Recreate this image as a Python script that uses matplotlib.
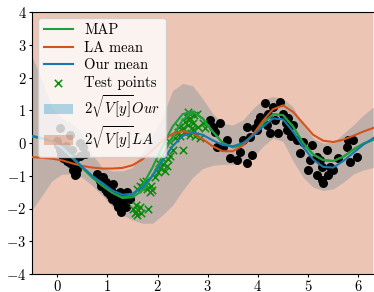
import matplotlib
matplotlib.use("Agg")
import matplotlib.pyplot as plt
import numpy as np

plt.rcParams['font.family'] = 'serif'
plt.rcParams['font.serif'] = ['cmr10']
plt.rcParams['mathtext.fontset'] = 'cm'
plt.rcParams['axes.formatter.use_mathtext'] = True
plt.rcParams['font.size'] = 10

# grid on which curves are given
x_grid = [-0.5, -0.3, -0.1, 0.1, 0.3, 0.5, 0.7, 0.9, 1.1, 1.3, 1.5, 1.7, 1.9, 2.1, 2.3,
          2.5, 2.7, 2.9, 3.1, 3.3, 3.5, 3.7, 3.9, 4.1, 4.3, 4.5, 4.7, 4.9, 5.1, 5.3,
          5.5, 5.7, 5.9, 6.1, 6.3]

our_mean = [0.22, 0.15, 0.05, -0.15, -0.42, -0.73, -1.0, -1.22, -1.45, -1.58, -1.55, -1.35,
            -1.0, -0.55, -0.1, 0.22, 0.32, 0.25, 0.08, -0.06, -0.1, 0.0, 0.22, 0.5, 0.75,
            0.72, 0.35, -0.12, -0.5, -0.73, -0.75, -0.55, -0.3, -0.05, 0.15]

map_mean = [0.2, 0.14, 0.05, -0.15, -0.45, -0.75, -1.05, -1.3, -1.52, -1.65, -1.6, -1.3,
            -0.75, -0.1, 0.5, 0.88, 0.97, 0.75, 0.35, 0.0, -0.13, -0.05, 0.25, 0.6, 0.88,
            0.85, 0.5, 0.0, -0.35, -0.52, -0.55, -0.42, -0.2, -0.02, 0.1]

map_mean_2 = [0.2, 0.14, 0.05, -0.15, -0.45, -0.75, -1.05, -1.3, -1.52, -1.68, -1.66, -1.45,
              -1.0, -0.4, 0.2, 0.7, 0.95, 0.75, 0.35, 0.0, -0.13, -0.05, 0.25, 0.6, 0.88,
              0.85, 0.5, 0.0, -0.35, -0.52, -0.55, -0.42, -0.2, -0.02, 0.1]

la_mean = [-0.43, -0.45, -0.48, -0.53, -0.62, -0.7, -0.75, -0.78, -0.78, -0.76, -0.68, -0.5,
           -0.22, 0.08, 0.28, 0.36, 0.3, 0.12, -0.1, -0.25, -0.25, -0.08, 0.25, 0.68, 1.03,
           1.15, 0.95, 0.6, 0.25, 0.07, 0.03, 0.1, 0.22, 0.35, 0.46]

our_upper = [2.65, 1.9, 1.1, 0.75, 0.6, 0.3, -0.35, -0.75, -0.85, -0.85, -0.75, -0.3,
             0.25, 0.8, 1.6, 1.82, 1.75, 1.35, 0.9, 0.6, 0.55, 0.7, 1.05, 1.32, 1.42,
             1.35, 1.1, 0.55, 0.15, 0.0, 0.02, 0.28, 0.55, 0.85, 1.1]

our_lower = [-2.05, -1.6, -1.15, -0.95, -0.95, -1.05, -1.3, -1.6, -1.95, -2.2, -2.35, -2.45,
             -2.45, -2.2, -1.9, -1.45, -1.05, -0.78, -0.68, -0.65, -0.65, -0.6, -0.45, -0.1,
             0.15, 0.05, -0.55, -1.05, -1.35, -1.45, -1.4, -1.2, -0.95, -0.82, -0.75]

la_two_sd = [6.0] * 35

train_x = [0.02, 0.05, 0.08, 0.1, 0.12, 0.15, 0.18, 0.2, 0.22, 0.25, 0.28, 0.3, 0.33, 0.35,
           0.38, 0.4, 0.45, 0.55, 0.46, 0.52, 0.06, 0.25, 0.0, 0.32, 0.36,
           0.8, 0.85, 0.88, 0.92, 0.95, 0.98, 1.0, 1.03, 1.05, 1.08, 1.1, 1.12, 1.15, 1.18,
           1.2, 1.22, 1.25, 1.27, 1.3, 1.32, 1.35, 1.38, 1.4, 1.45,
           3.05, 3.1, 3.15, 3.25, 3.19, 3.3, 3.38, 3.45, 3.58, 3.65, 3.78, 3.7, 3.84, 3.78,
           3.95, 4.0, 4.14, 4.44, 4.04, 4.18, 3.98, 4.58, 4.7, 3.88, 4.2, 4.3, 4.35, 4.5,
           4.55, 4.6, 4.65, 4.4, 4.25, 4.78, 4.9, 4.84, 5.08, 5.04, 5.18, 5.24, 5.28, 5.0,
           5.18, 5.28, 5.4, 5.5, 5.38, 5.44, 5.6, 5.78, 5.8, 5.9, 5.84, 5.98, 5.3]
train_y = [-0.05, -0.2, -0.35, -0.15, -0.45, -0.3, -0.1, -0.55, -0.35, -0.6, -0.45, -0.2, -0.7,
           -0.5, -0.95, -0.8, -0.4, -0.35, 0.0, -0.12, 0.45, 0.25, 0.05, -0.82, -0.98,
           -0.95, -1.15, -1.3, -1.05, -1.4, -1.2, -1.5, -1.35, -1.6, -1.45, -1.7, -1.25, -1.55,
           -1.8, -1.65, -1.95, -1.5, -2.1, -1.75, -1.85, -1.6, -1.95, -1.5, -1.7,
           0.7, 0.5, 0.33, 0.6, -0.12, -0.12, 0.1, -0.46, -0.52, -0.27, -0.61, 0.1, 0.18, 0.5,
           0.45, 0.63, 1.22, 1.25, 0.8, 0.55, 0.4, 0.4, 0.55, -0.37, 0.9, 1.1, 0.7, 0.9,
           0.6, 0.75, 0.2, 0.3, 0.3, 0.1, 0.03, -0.3, -0.06, -0.52, -0.43, -0.52, -0.73, -0.82,
           -0.98, -1.13, -0.98, -0.82, -0.21, -0.73, -0.46, -0.12, 0.1, 0.1, -0.58, -0.43, -1.22]

test_x = [1.52, 1.55, 1.57, 1.6, 1.62, 1.65, 1.58, 1.68, 1.82, 1.6, 1.65, 1.7, 1.72, 1.75,
          1.78, 1.8, 1.85, 1.9, 1.88, 1.95, 2.0, 2.02, 2.05, 2.08, 2.1, 2.15, 2.18, 2.2,
          2.22, 2.25, 2.3, 2.35, 2.4, 2.42, 2.45, 2.5, 2.5, 2.55, 2.55, 2.6, 2.6, 2.62,
          2.65, 2.65, 2.68, 2.7, 2.72, 2.75, 2.78, 2.8, 2.85, 2.9, 2.95, 2.58, 2.7]
test_y = [-2.0, -2.15, -1.9, -2.2, -2.05, -1.95, -2.1, -2.15, -2.0, -1.4, -1.3, -1.35, -1.2,
          -1.25, -1.15, -1.4, -1.5, -1.45, -1.3, -1.05, -0.9, -0.6, -0.75, -0.45, -0.65, -0.85,
          -0.7, -0.5, 0.05, -0.4, -0.2, 0.15, 0.35, 0.5, 0.2, -0.2, 0.45, 0.65, 0.3, 0.55,
          0.95, 0.7, 0.75, 0.25, 0.45, 0.6, 0.85, 0.2, 0.9, 0.5, 0.15, 0.6, 0.45, 0.8, 0.4]

c_map = '#1f9e3c'
c_la = '#d4531c'
c_our = '#1578b0'
c_test = '#0a8a0a'
c_band_our = '#0088c0'
c_band_la = '#d26e46'

fig = plt.figure(figsize=(3.74, 2.92), dpi=100)
ax = fig.add_axes([32/374, 18/292, 343.9/374, 262/292])

xg = np.array(x_grid)
la_m = np.array(la_mean)
la_sd = np.array(la_two_sd)

ax.fill_between(xg, our_lower, our_upper, color=c_band_our, alpha=0.3, lw=0,
                label=r'$2\sqrt{V\,[y]}Our$', zorder=1)
ax.fill_between(xg, la_m - la_sd, la_m + la_sd, color=c_band_la, alpha=0.4, lw=0,
                label=r'$2\sqrt{V\,[y]}LA$', zorder=1.1)

ax.scatter(train_x, train_y, s=42, color='black', zorder=2, lw=0)
ax.scatter(test_x, test_y, s=28, marker='x', color=c_test, linewidths=1.1, zorder=2.5,
           label='Test points')

ax.plot(xg, map_mean, color=c_map, lw=1.5, zorder=3, label='MAP')
ax.plot(xg, map_mean_2, color=c_map, lw=1.5, zorder=3)
ax.plot(xg, la_mean, color=c_la, lw=1.5, zorder=3, label='LA mean')
ax.plot(xg, our_mean, color=c_our, lw=1.5, zorder=3.1, label='Our mean')

ax.set_xlim(-0.5, 6.35)
ax.set_ylim(-4, 4)
ax.set_xticks([0, 1, 2, 3, 4, 5, 6])
ax.set_yticks([-4, -3, -2, -1, 0, 1, 2, 3, 4])
ax.tick_params(axis='y', length=2.5, pad=1.5, labelsize=10.5)
ax.tick_params(axis='x', length=2.5, pad=0.8, labelsize=10.5)

handles, labels = ax.get_legend_handles_labels()
order = ['MAP', 'LA mean', 'Our mean', 'Test points',
         r'$2\sqrt{V\,[y]}Our$', r'$2\sqrt{V\,[y]}LA$']
hmap = dict(zip(labels, handles))
ax.legend([hmap[o] for o in order], order, loc='upper left', fontsize=10.5,
          borderaxespad=0.4, labelspacing=0.25, handlelength=2.0, handletextpad=0.8)

fig.savefig('out.png', dpi=100)
